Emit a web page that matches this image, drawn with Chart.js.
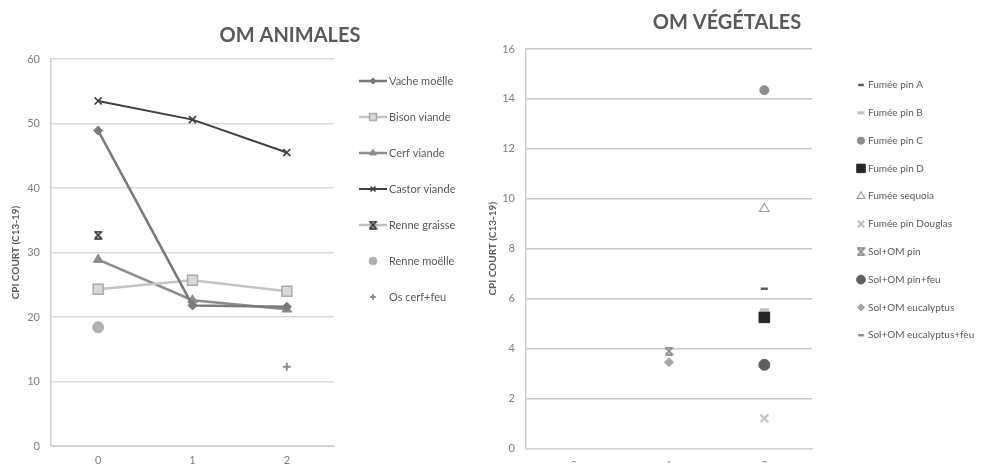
<!DOCTYPE html>
<html><head><meta charset="utf-8">
<script src="https://cdn.jsdelivr.net/npm/chart.js@4.4.1/dist/chart.umd.min.js"></script>
<style>
html,body{margin:0;padding:0;background:#fff;width:986px;height:466px;overflow:hidden;}
#c1{position:absolute;left:0;top:0;}
#c2{position:absolute;left:468px;top:0;}
</style></head><body>
<canvas id="c1" width="580" height="466"></canvas>
<canvas id="c2" width="518" height="466"></canvas>
<script>
// ---------- OM ANIMALES ----------
const animTitle = 'OM ANIMALES';
const animCategories = ['0', '1', '2'];
const animTicks = [0, 10, 20, 30, 40, 50, 60];
const vacheMoelle = [48.9, 21.8, 21.6];
const bisonViande = [24.3, 25.7, 24.0];
const cerfViande = [28.9, 22.6, 21.2];
const castorViande = [53.5, 50.6, 45.5];
const renneGraisse = [32.7, null, null];
const renneMoelle = [18.4, null, null];
const osCerfFeu = [null, null, 12.3];

// ---------- OM VÉGÉTALES ----------
const vegTitle = 'OM VÉGÉTALES';
const vegCategories = ['0', '1', '2'];
const vegTicks = [0, 2, 4, 6, 8, 10, 12, 14, 16];
const fumeePinA = [null, null, 6.4];
const fumeePinB = [null, null, 5.55];
const fumeePinC = [null, null, 14.35];
const fumeePinD = [null, null, 5.25];
const fumeeSequoia = [null, null, 9.6];
const fumeePinDouglas = [null, null, 1.2];
const solOmPin = [null, 3.9, null];
const solOmPinFeu = [null, null, 3.35];
const solOmEucalyptus = [null, 3.45, null];
const solOmEucalyptusFeu = [null, null, 3.4];

const yTitle = 'CPI COURT (C13-19)';
const FONT = 'Lato';

function hourglass(color, s) {
  const c = document.createElement('canvas');
  c.width = s; c.height = s;
  const g = c.getContext('2d');
  g.strokeStyle = color; g.fillStyle = color; g.lineWidth = 1.6;
  g.beginPath();
  g.moveTo(1, 1); g.lineTo(s - 1, s - 1);
  g.moveTo(s - 1, 1); g.lineTo(1, s - 1);
  g.moveTo(0.5, 1); g.lineTo(s - 0.5, 1);
  g.moveTo(0.5, s - 1); g.lineTo(s - 0.5, s - 1);
  g.stroke();
  return c;
}

// centre the title over the whole canvas (chart + legend), as in the reference
const wideTitle = {
  id: 'wideTitle',
  afterLayout(chart) {
    const t = chart.titleBlock;
    if (t) { t.left = 0; t.right = chart.width; t.width = chart.width; }
  }
};

const sideLegend = {
  id: 'sideLegend',
  afterDraw(chart, args, opts) {
    const ctx = chart.ctx;
    ctx.save();
    ctx.font = opts.font;
    ctx.textBaseline = 'middle';
    ctx.textAlign = 'left';
    chart.data.datasets.forEach((ds, i) => {
      const y = opts.y0 + i * opts.step;
      let mx = opts.markerX;
      if (ds.legendLine) {
        ctx.strokeStyle = ds.legendLine;
        ctx.lineWidth = ds.borderWidth;
        ctx.beginPath(); ctx.moveTo(opts.lineX0, y); ctx.lineTo(opts.lineX1, y); ctx.stroke();
        mx = (opts.lineX0 + opts.lineX1) / 2;
      }
      ctx.fillStyle = ds.pointBackgroundColor;
      ctx.strokeStyle = ds.pointBorderColor;
      ctx.lineWidth = ds.pointBorderWidth;
      const ps = ds.pointStyle;
      if (Chart.helpers && Chart.helpers.drawPoint) {
        Chart.helpers.drawPoint(ctx, {pointStyle: ps, radius: ds.pointRadius * opts.scale, borderWidth: ds.pointBorderWidth, rotation: 0}, mx, y);
      }
      ctx.fillStyle = opts.color;
      ctx.fillText(ds.label, opts.textX, y);
    });
    ctx.restore();
  }
};

function ds(label, data, o) {
  return {
    label, data,
    borderColor: o.line || 'rgba(0,0,0,0)',
    backgroundColor: o.fill,
    borderWidth: o.lw || 2.5,
    showLine: !!o.line,
    legendLine: o.line || null,
    pointStyle: o.style,
    pointRadius: o.r,
    pointHoverRadius: o.r,
    pointBackgroundColor: o.fill,
    pointBorderColor: o.stroke || o.fill,
    pointBorderWidth: o.bw != null ? o.bw : 1,
    spanGaps: false
  };
}

function baseOptions(cfg) {
  return {
    responsive: false,
    devicePixelRatio: 1,
    animation: false,
    events: [],
    layout: {padding: {left: 0, right: cfg.padRight, top: 0, bottom: 0}},
    plugins: {
      legend: {display: false},
      tooltip: {enabled: false},
      title: {
        display: true, text: cfg.title, color: '#595959',
        font: {family: FONT, size: 20, weight: 'bold', lineHeight: 1.2},
        padding: {top: cfg.titleTop, bottom: cfg.titleBottom}
      },
      sideLegend: cfg.legend
    },
    scales: {
      x: {
        offset: true,
        grid: {display: false, drawTicks: false},
        border: {display: true, color: '#d0d0d0', width: 1},
        ticks: {color: '#808080', font: {family: FONT, size: 11}, padding: cfg.xPad, maxRotation: 0},
        afterFit: s => { s.height = cfg.xHeight; }
      },
      y: {
        min: cfg.ticks[0], max: cfg.ticks[cfg.ticks.length - 1],
        afterBuildTicks: s => { s.ticks = cfg.ticks.map(v => ({value: v})); },
        grid: {color: cfg.gridColor, lineWidth: 1.5, drawTicks: false},
        border: {display: true, color: '#d0d0d0', width: 1.5},
        ticks: {color: '#808080', font: {family: FONT, size: 11}, padding: cfg.yPad},
        title: {display: true, text: yTitle, color: '#595959', font: {family: FONT, size: 10, weight: 'bold', lineHeight: 1.2}, padding: {top: cfg.yTitlePad, bottom: 0}},
        afterFit: s => { s.width = cfg.yWidth; }
      }
    }
  };
}

const star1 = hourglass('#262626', 9);
const star2 = hourglass('#7f7f7f', 9);

new Chart(document.getElementById('c1'), {
  type: 'line',
  data: {
    labels: animCategories,
    datasets: [
      ds('Vache moëlle', vacheMoelle, {line: '#7a7a7a', lw: 2.5, style: 'rectRot', r: 4.5, fill: '#7a7a7a'}),
      ds('Bison viande', bisonViande, {line: '#c4c4c4', lw: 2.5, style: 'rect', r: 7, fill: '#d9d9d9', stroke: '#ababab', bw: 1.5}),
      ds('Cerf viande', cerfViande, {line: '#8c8c8c', lw: 2.5, style: 'triangle', r: 5.5, fill: '#8c8c8c'}),
      ds('Castor viande', castorViande, {line: '#3f3f3f', lw: 2, style: 'crossRot', r: 5, fill: '#3f3f3f', stroke: '#3f3f3f', bw: 1.6}),
      ds('Renne graisse', renneGraisse, {line: '#bfbfbf', lw: 2.5, style: star1, r: 5, fill: '#262626'}),
      ds('Renne moëlle', renneMoelle, {style: 'circle', r: 5.5, fill: '#b0b0b0'}),
      ds('Os cerf+feu', osCerfFeu, {style: 'cross', r: 4, fill: '#8c8c8c', stroke: '#8c8c8c', bw: 2})
    ]
  },
  options: baseOptions({
    title: animTitle, padRight: 246, titleTop: 24, titleBottom: 11,
    xPad: 8, xHeight: 20, ticks: animTicks, gridColor: '#d9d9d9',
    yPad: 11, yTitlePad: 10, yWidth: 51,
    legend: {font: '11px ' + FONT, color: '#595959', y0: 81, step: 36, lineX0: 359, lineX1: 387, markerX: 373, textX: 389, scale: 0.7}
  }),
  plugins: [wideTitle, sideLegend]
});

new Chart(document.getElementById('c2'), {
  type: 'line',
  data: {
    labels: vegCategories,
    datasets: [
      ds('Fumée pin A', fumeePinA, {style: 'line', r: 3.5, fill: '#595959', stroke: '#595959', bw: 2.5}),
      ds('Fumée pin B', fumeePinB, {style: 'line', r: 4.5, fill: '#c0c0c0', stroke: '#c0c0c0', bw: 3}),
      ds('Fumée pin C', fumeePinC, {style: 'circle', r: 4.5, fill: '#8c8c8c'}),
      ds('Fumée pin D', fumeePinD, {style: 'rect', r: 7.5, fill: '#262626'}),
      ds('Fumée sequoia', fumeeSequoia, {style: 'triangle', r: 5.5, fill: '#ffffff', stroke: '#a0a0a0', bw: 1.2}),
      ds('Fumée pin Douglas', fumeePinDouglas, {style: 'crossRot', r: 5.5, fill: '#c4c4c4', stroke: '#c4c4c4', bw: 2.2}),
      ds('Sol+OM pin', solOmPin, {style: star2, r: 5, fill: '#7f7f7f'}),
      ds('Sol+OM pin+feu', solOmPinFeu, {style: 'circle', r: 5.5, fill: '#5f5f5f'}),
      ds('Sol+OM eucalyptus', solOmEucalyptus, {style: 'rectRot', r: 4.5, fill: '#a6a6a6'}),
      ds('Sol+OM eucalyptus+feu', solOmEucalyptusFeu, {style: 'line', r: 3.5, fill: '#8c8c8c', stroke: '#8c8c8c', bw: 2.5})
    ]
  },
  options: baseOptions({
    title: vegTitle, padRight: 174, titleTop: 11, titleBottom: 14,
    xPad: 10, xHeight: 14, ticks: vegTicks, gridColor: '#c8c8c8',
    yPad: 11, yTitlePad: 19, yWidth: 58,
    legend: {font: '10px ' + FONT, color: '#595959', y0: 85, step: 27.8, lineX0: 0, lineX1: 0, markerX: 393, textX: 400, scale: 0.8}
  }),
  plugins: [wideTitle, sideLegend]
});
</script>
</body></html>
